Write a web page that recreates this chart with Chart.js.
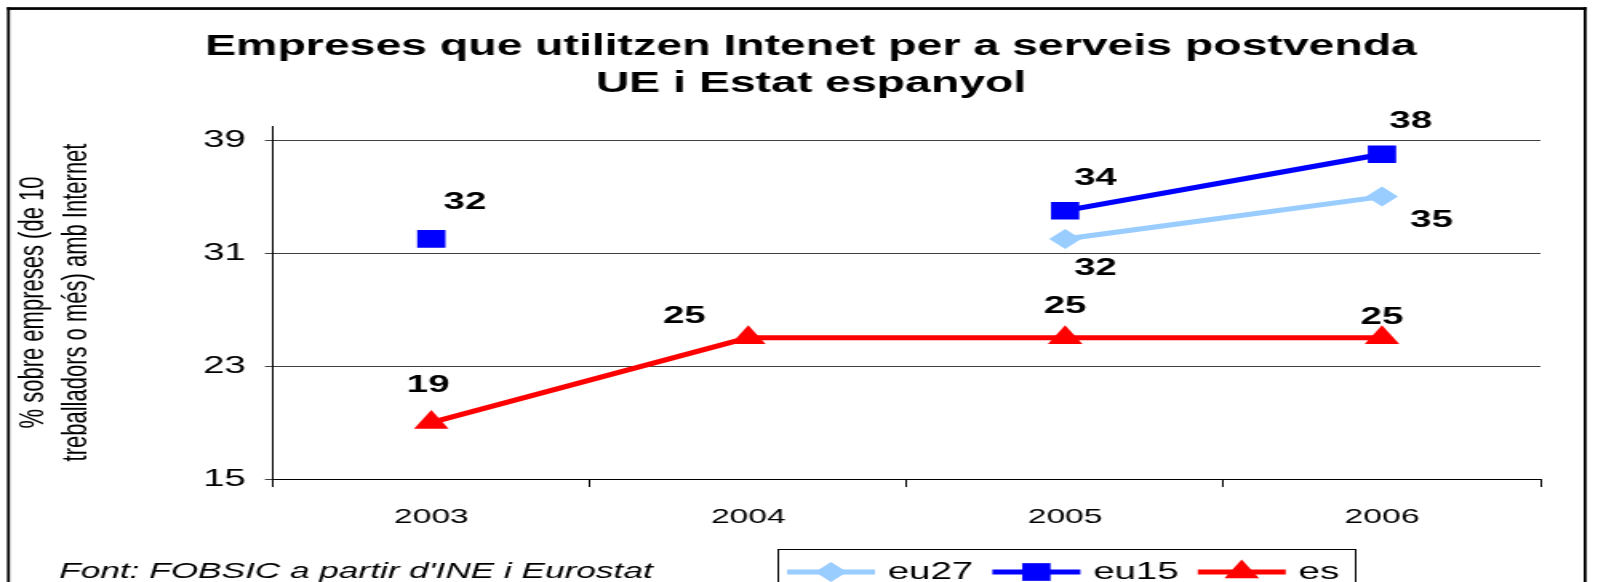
<!DOCTYPE html>
<html>
<head>
<meta charset="utf-8">
<script src="https://cdn.jsdelivr.net/npm/chart.js@4.4.1/dist/chart.umd.min.js"></script>
<style>
  html, body { margin: 0; padding: 0; background: #fff; overflow: hidden; }
  /* the original picture is stretched sideways, so draw narrow and widen it */
  #wrap { width: 999px; height: 582px; transform: scaleX(1.5996); transform-origin: 0 0; }
  canvas { display: block; }
</style>
</head>
<body>
<div id="wrap"><canvas id="chart" width="999" height="582"></canvas></div>
<script>
const years = ['2003', '2004', '2005', '2006'];
const eu27 = [null, null, 32, 35];
const eu15 = [32, null, 34, 38];
const es = [19, 25, 25, 25];
const seriesNames = ['eu27', 'eu15', 'es'];
const yTicks = [15, 23, 31, 39];

const titleLines = ['Empreses que utilitzen Intenet per a serveis postvenda', 'UE i Estat espanyol'];
const yTitle = ['% sobre empreses (de 10', 'treballadors o més) amb Internet'];
const sourceNote = "Font: FOBSIC a partir d'INE i Eurostat";

const FONT = '"Liberation Sans", Arial, sans-serif';
const colors = ['#99CCFF', '#0000FF', '#FF0000'];
const markers = [
    { style: 'rectRot', radius: 10 },
    { style: 'rect', radius: 12.5 },
    { style: 'triangle', radius: 12.5 }
];

// where each value label sits relative to its point
const labelOffsets = [
    [null, null, [19, 29], [31, 24]],
    [[21, -37], null, [19, -32], [18, -33]],
    [[-2, -37], [-40, -21], [0, -31], [0, -20]]
];

const datasets = [eu27, eu15, es].map((values, i) => ({
    label: seriesNames[i],
    data: values,
    borderColor: colors[i],
    backgroundColor: colors[i],
    borderWidth: 5,
    pointStyle: markers[i].style,
    pointRadius: markers[i].radius,
    pointHoverRadius: markers[i].radius,
    pointBorderWidth: 0,
    tension: 0,
    spanGaps: false
}));

const decor = {
    id: 'decor',
    beforeDraw(chart) {
        const ctx = chart.ctx;
        ctx.save();
        ctx.fillStyle = '#fff';
        ctx.fillRect(0, 0, chart.width, chart.height);
        ctx.restore();
    },
    afterDatasetsDraw(chart) {
        const ctx = chart.ctx;
        ctx.save();
        ctx.font = `bold 24px ${FONT}`;
        ctx.fillStyle = '#000';
        ctx.textAlign = 'center';
        ctx.textBaseline = 'middle';
        chart.data.datasets.forEach((ds, i) => {
            const meta = chart.getDatasetMeta(i);
            ds.data.forEach((v, j) => {
                if (v === null) return;
                const pt = meta.data[j];
                const off = labelOffsets[i][j];
                ctx.fillText(String(v), pt.x + off[0], pt.y + off[1]);
            });
        });
        ctx.restore();
    },
    afterDraw(chart) {
        const ctx = chart.ctx;
        ctx.save();

        // frame
        ctx.fillStyle = '#000';
        ctx.fillRect(4.4, 7.2, 987.4, 2.7);
        ctx.fillRect(4.4, 7.2, 1.8, 600);
        ctx.fillRect(990, 7.2, 1.8, 600);

        // title
        ctx.font = `bold 29px ${FONT}`;
        ctx.textAlign = 'center';
        ctx.textBaseline = 'middle';
        ctx.fillText(titleLines[0], 507, 47);
        ctx.fillText(titleLines[1], 507, 84);

        // source
        ctx.font = `italic 22px ${FONT}`;
        ctx.textAlign = 'left';
        ctx.fillText(sourceNote, 37, 572);

        // legend
        const ly = 572;
        ctx.strokeStyle = '#000';
        ctx.lineWidth = 1;
        ctx.strokeRect(486.5, 549.5, 361, 44);
        ctx.font = `24px ${FONT}`;
        let x = 492;
        chart.data.datasets.forEach((ds, i) => {
            ctx.strokeStyle = colors[i];
            ctx.fillStyle = colors[i];
            ctx.lineWidth = 5;
            ctx.beginPath();
            ctx.moveTo(x, ly);
            ctx.lineTo(x + 55, ly);
            ctx.stroke();
            Chart.helpers.drawPoint(ctx, {
                pointStyle: markers[i].style,
                radius: markers[i].radius,
                rotation: 0,
                borderWidth: 0
            }, x + 27.5, ly);
            x += 63;
            ctx.fillStyle = '#000';
            ctx.fillText(ds.label, x, ly);
            x += ctx.measureText(ds.label).width + 12;
        });

        ctx.restore();
    }
};

new Chart(document.getElementById('chart').getContext('2d'), {
    type: 'line',
    data: { labels: years, datasets: datasets },
    options: {
        responsive: false,
        animation: false,
        devicePixelRatio: 1,
        layout: { padding: { top: 126, left: 0, right: 36, bottom: 0 } },
        plugins: {
            legend: { display: false },
            title: { display: false },
            tooltip: { enabled: false }
        },
        scales: {
            x: {
                offset: true,
                grid: { offset: true, drawOnChartArea: false, drawTicks: true, tickLength: 8, color: '#000', lineWidth: 1 },
                border: { display: true, color: '#000', width: 1 },
                ticks: { color: '#000', font: { family: FONT, size: 21 }, padding: 18, maxRotation: 0 },
                afterFit: s => { s.height = 103; }
            },
            y: {
                min: 15,
                max: 40,
                afterBuildTicks: s => { s.ticks = yTicks.map(v => ({ value: v })); },
                grid: { color: '#404040', lineWidth: 1, drawTicks: true, tickLength: 5 },
                border: { display: true, color: '#000', width: 1 },
                ticks: { color: '#000', font: { family: FONT, size: 24 }, padding: 12 },
                title: {
                    display: true,
                    text: yTitle,
                    color: '#000',
                    font: { family: FONT, size: 22, lineHeight: 1.2 },
                    padding: { top: 8, bottom: 0 }
                },
                afterFit: s => { s.width = 170.6; }
            }
        }
    },
    plugins: [decor]
});
</script>
</body>
</html>
